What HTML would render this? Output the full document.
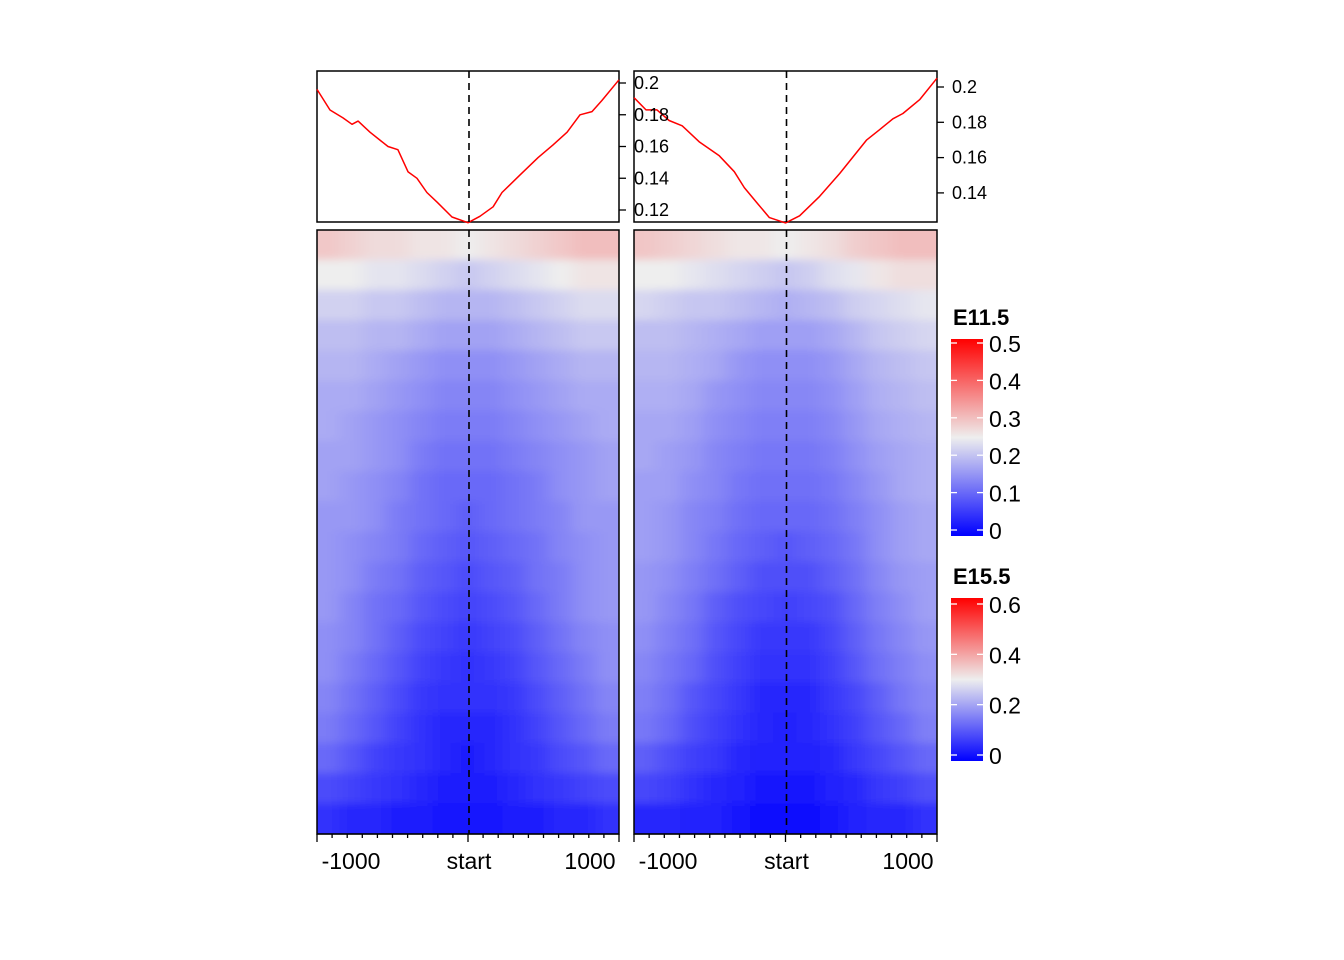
<!DOCTYPE html>
<html><head><meta charset="utf-8"><style>
html,body{margin:0;padding:0;background:#fff;}
svg{display:block;font-family:"Liberation Sans",Arial,sans-serif;}
</style></head><body>
<svg id="chart" width="1344" height="960" viewBox="0 0 1344 960" xmlns="http://www.w3.org/2000/svg">
<defs>
<filter id="soft" x="-0.1" y="-0.1" width="1.2" height="1.2"><feGaussianBlur stdDeviation="8 4"/></filter>
<clipPath id="clipL"><rect x="317" y="230" width="302" height="604"/></clipPath>
<clipPath id="clipR"><rect x="634" y="230" width="303" height="604"/></clipPath>
<linearGradient id="gradA" x1="0" y1="1" x2="0" y2="0">
<stop offset="0" stop-color="#0000ff"/><stop offset="0.5" stop-color="#eeeeee"/><stop offset="1" stop-color="#ff0000"/></linearGradient>
<linearGradient id="gradB" x1="0" y1="1" x2="0" y2="0">
<stop offset="0" stop-color="#0000ff"/><stop offset="0.5" stop-color="#eeeeee"/><stop offset="1" stop-color="#ff0000"/></linearGradient>
</defs>
<g id="layer"></g>
<g id="top"></g>
</svg>
<script>
// profile data (bp positions and mean signal)
const profLeftPos=[-1000,-914,-828,-768,-728,-649,-530,-464,-397,-338,-272,-205,-106,0,79,166,225,344,464,563,656,742,821,887,1000];
const profLeftVal=[0.196,0.183,0.178,0.174,0.176,0.169,0.160,0.158,0.144,0.140,0.131,0.125,0.1156,0.112,0.116,0.122,0.131,0.142,0.153,0.161,0.169,0.180,0.182,0.189,0.202];
const profRightPos=[-1000,-921,-848,-768,-682,-570,-437,-338,-272,-185,-106,0,93,225,358,536,623,709,775,887,1000];
const profRightVal=[0.194,0.187,0.187,0.181,0.178,0.169,0.161,0.152,0.143,0.134,0.126,0.123,0.127,0.138,0.151,0.170,0.176,0.182,0.185,0.193,0.205];
const leftTicks=[0.12,0.14,0.16,0.18,0.2];
const rightTicks=[0.14,0.16,0.18,0.2];
const xTickLabels=["-1000","start","1000"];
const legendATicks=[0,0.1,0.2,0.3,0.4,0.5];
const legendBTicks=[0,0.2,0.4,0.6];
// heatmap matrices (rows top->bottom, 13 bins -1000..1000)
const heatE11=[
[.29,.28,.27,.27,.26,.26,.25,.26,.27,.28,.29,.30,.30],
[.25,.25,.24,.24,.23,.22,.21,.22,.23,.24,.25,.26,.26],
[.22,.22,.21,.21,.20,.19,.19,.19,.20,.21,.22,.23,.23],
[.20,.20,.19,.19,.18,.17,.17,.17,.18,.19,.20,.21,.21],
[.19,.19,.18,.17,.16,.15,.15,.15,.16,.17,.18,.19,.19],
[.18,.18,.17,.16,.15,.14,.14,.14,.15,.16,.17,.18,.18],
[.18,.17,.16,.15,.14,.13,.13,.13,.14,.15,.16,.17,.18],
[.17,.17,.16,.15,.13,.12,.12,.12,.13,.14,.15,.16,.17],
[.17,.16,.15,.14,.12,.11,.11,.11,.12,.13,.15,.16,.17],
[.16,.16,.15,.13,.12,.11,.10,.11,.12,.13,.14,.16,.16],
[.16,.15,.14,.13,.11,.10,.09,.10,.11,.12,.14,.15,.16],
[.16,.15,.13,.12,.10,.09,.08,.09,.10,.12,.13,.15,.16],
[.16,.14,.12,.11,.09,.08,.07,.08,.09,.11,.13,.15,.16],
[.15,.14,.12,.10,.08,.07,.06,.07,.08,.10,.12,.14,.15],
[.15,.13,.11,.09,.07,.06,.05,.06,.07,.09,.11,.13,.15],
[.14,.12,.10,.08,.06,.05,.05,.05,.06,.08,.10,.12,.14],
[.13,.11,.09,.07,.05,.04,.04,.04,.05,.07,.09,.11,.13],
[.11,.09,.07,.06,.05,.04,.03,.04,.05,.06,.08,.09,.11],
[.08,.07,.06,.05,.04,.03,.03,.03,.04,.05,.06,.07,.08],
[.05,.04,.04,.03,.03,.02,.02,.02,.03,.03,.04,.04,.05]];
const heatE15=[
[.35,.34,.33,.32,.31,.31,.30,.31,.32,.34,.35,.36,.36],
[.30,.30,.29,.28,.27,.26,.25,.26,.28,.29,.31,.32,.32],
[.27,.26,.25,.25,.24,.23,.22,.23,.24,.26,.27,.28,.29],
[.24,.24,.23,.22,.21,.20,.20,.20,.21,.23,.25,.26,.27],
[.23,.23,.22,.21,.19,.18,.18,.18,.19,.21,.23,.24,.25],
[.22,.22,.21,.19,.18,.17,.17,.17,.18,.20,.22,.23,.24],
[.21,.21,.20,.18,.17,.16,.16,.16,.17,.19,.21,.22,.23],
[.21,.20,.19,.17,.16,.15,.15,.15,.16,.18,.20,.21,.22],
[.20,.20,.18,.17,.15,.14,.14,.14,.15,.17,.19,.21,.22],
[.20,.19,.17,.16,.14,.13,.13,.13,.14,.16,.18,.20,.21],
[.20,.19,.17,.15,.13,.12,.11,.12,.13,.15,.18,.20,.21],
[.19,.18,.16,.14,.12,.10,.10,.10,.12,.14,.17,.19,.20],
[.19,.17,.15,.12,.10,.09,.08,.09,.10,.13,.16,.18,.20],
[.18,.16,.14,.11,.09,.07,.07,.07,.09,.12,.15,.17,.19],
[.17,.15,.13,.10,.08,.06,.06,.06,.08,.11,.14,.16,.18],
[.16,.14,.11,.09,.07,.05,.05,.05,.07,.09,.12,.15,.17],
[.15,.13,.10,.08,.06,.05,.04,.05,.06,.08,.11,.13,.16],
[.12,.10,.08,.07,.05,.04,.04,.04,.05,.07,.09,.11,.13],
[.09,.08,.06,.05,.04,.03,.03,.03,.04,.05,.07,.08,.10],
[.05,.05,.04,.04,.03,.02,.02,.02,.03,.04,.05,.05,.06]];

const NS="http://www.w3.org/2000/svg";
const layer=document.getElementById('layer');
const topLayer=document.getElementById('top');
function mk(tag,attrs,parent){const e=document.createElementNS(NS,tag);for(const k in attrs)e.setAttribute(k,attrs[k]);(parent||layer).appendChild(e);return e;}
function colorFn(max){return v=>{const m=max/2;let t,a,b;const blue=[0,0,255],mid=[238,238,238],red=[255,0,0];
 if(v<=m){t=Math.max(0,v/m);a=blue;b=mid;}else{t=Math.min(1,(v-m)/m);a=mid;b=red;}
 return `rgb(${Math.round(a[0]+(b[0]-a[0])*t)},${Math.round(a[1]+(b[1]-a[1])*t)},${Math.round(a[2]+(b[2]-a[2])*t)})`;};}

const panels=[
 {x0:317,x1:619,pos:profLeftPos,val:profLeftVal,yTop:0.2,yTopPx:83,pxPer:31.75/0.02,ticks:leftTicks,heat:heatE11,col:colorFn(0.5),clip:'clipL',name:'e11-5'},
 {x0:634,x1:937,pos:profRightPos,val:profRightVal,yTop:0.2,yTopPx:87,pxPer:35.3/0.02,ticks:rightTicks,heat:heatE15,col:colorFn(0.6),clip:'clipR',name:'e15-5'}];
const hy0=230,hy1=834,py0=71,py1=222,PAD=25;

panels.forEach(p=>{
 const xs=bp=>p.x0+(bp+1000)/2000*(p.x1-p.x0);
 const ys=v=>p.yTopPx+(p.yTop-v)*p.pxPer;
 // heatmap
 const g=mk('g',{'clip-path':`url(#${p.clip})`});
 
 
 const inner=mk('g',{filter:'url(#soft)'},g);
 const nr=p.heat.length,nc=p.heat[0].length;
 const cw=(p.x1-p.x0)/nc,ch=(hy1-hy0)/nr;
 p.heat.forEach((row,i)=>row.forEach((v,j)=>{
  let x=p.x0+j*cw-0.5,y=hy0+i*ch-0.5,w=cw+1,h=ch+1;
  if(j===0){x-=PAD;w+=PAD;} if(j===nc-1){w+=PAD;}
  if(i===0){y-=PAD;h+=PAD;} if(i===nr-1){h+=PAD;}
  const r=mk('rect',{x:x.toFixed(2),y:y.toFixed(2),width:w.toFixed(2),height:h.toFixed(2),fill:p.col(v)},inner);
  
  
 }));
 const hb=mk('rect',{x:p.x0,y:hy0,width:p.x1-p.x0,height:hy1-hy0,fill:'none',stroke:'#000','stroke-width':1.5});
 
 
 // profile
 const pf=mk('rect',{x:p.x0,y:py0,width:p.x1-p.x0,height:py1-py0,fill:'#fff',stroke:'#000','stroke-width':1.5});
 
 
 const d=p.pos.map((b,i)=>(i?'L':'M')+xs(b).toFixed(1)+' '+ys(p.val[i]).toFixed(1)).join(' ');
 const line=mk('path',{d:d,fill:'none',stroke:'#ff0000','stroke-width':1.5,'stroke-linejoin':'round'});
 
 
 const cx=xs(0)+1;
 const dl=mk('line',{x1:cx,y1:py0,x2:cx,y2:py1,stroke:'#000','stroke-width':1.6,'stroke-dasharray':'7 5'});
 
 
 const dl2=mk('line',{x1:cx,y1:hy0,x2:cx,y2:hy1,stroke:'#000','stroke-width':1.6,'stroke-dasharray':'7 5'});
 
 
 // profile y axis (right) — drawn on top layer
 p.ticks.forEach(t=>{
  const y=ys(t);
  mk('line',{x1:p.x1,y1:y,x2:p.x1+7,y2:y,stroke:'#000','stroke-width':1.3},topLayer);
  const tx=mk('text',{x:p.x1+15,y:y+6,'font-size':18,fill:'#000'},topLayer);
  tx.textContent=String(t);
  
  
 });
 // x axis
 mk('line',{x1:p.x0,y1:hy1,x2:p.x1,y2:hy1,stroke:'#000','stroke-width':1.3});
 for(let b=-1000;b<=1000;b+=100){const x=xs(b);const major=(b%1000===0);mk('line',{x1:x,y1:hy1,x2:x,y2:hy1+(major?8:4),stroke:'#000','stroke-width':1.3});}
 [-1000,0,1000].forEach((b,i)=>{
  let x=xs(b)+1; if(i===0)x+=33; if(i===2)x-=30;
  const tx=mk('text',{x:x,y:869,'font-size':23,'text-anchor':'middle',fill:'#000'});
  tx.textContent=xTickLabels[i];
  
  
 });
});

// legends
function legend(title,ty,barTop,barBot,tickTop,tickBot,maxV,ticks,grad,name){
 const t=mk('text',{x:953,y:ty,'font-size':22,'font-weight':'bold',fill:'#000'});
 t.textContent=title;
 
 
 const bar=mk('rect',{x:951,y:barTop,width:32,height:barBot-barTop,fill:`url(#${grad})`});
 
 
 ticks.forEach(v=>{
  const y=tickBot-(v/maxV)*(tickBot-tickTop);
  mk('line',{x1:951,y1:y,x2:957,y2:y,stroke:'#fff','stroke-width':1.3});
  mk('line',{x1:977,y1:y,x2:983,y2:y,stroke:'#fff','stroke-width':1.3});
  const tx=mk('text',{x:989,y:y+9,'font-size':23,fill:'#000'});
  tx.textContent=String(v);
  
  
 });
}
legend('E11.5',325,339,536,343,530,0.5,legendATicks,'gradA','e11-5');
legend('E15.5',584,598,761,604,755,0.6,legendBTicks,'gradB','e15-5');
</script>
</body></html>
